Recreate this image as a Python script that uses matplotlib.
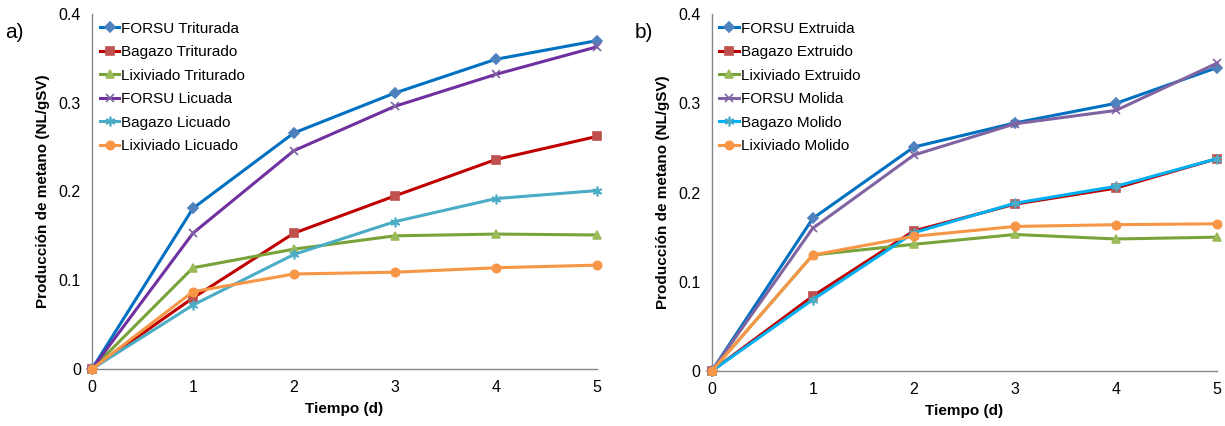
import matplotlib.pyplot as plt
from matplotlib.ticker import FuncFormatter

plt.rcParams['font.family'] = ['Liberation Sans', 'DejaVu Sans']

dias = [0, 1, 2, 3, 4, 5]

# panel a
forsu_triturada = [0, 0.181, 0.266, 0.311, 0.349, 0.370]
bagazo_triturado = [0, 0.080, 0.153, 0.195, 0.236, 0.262]
lixiviado_triturado = [0, 0.114, 0.135, 0.150, 0.152, 0.151]
forsu_licuada = [0, 0.153, 0.246, 0.296, 0.332, 0.363]
bagazo_licuado = [0, 0.072, 0.129, 0.166, 0.192, 0.201]
lixiviado_licuado = [0, 0.087, 0.107, 0.109, 0.114, 0.117]

# panel b
forsu_extruida = [0, 0.171, 0.251, 0.278, 0.300, 0.340]
bagazo_extruido = [0, 0.084, 0.157, 0.187, 0.205, 0.238]
lixiviado_extruido = [0, 0.130, 0.142, 0.153, 0.148, 0.150]
forsu_molida = [0, 0.160, 0.242, 0.277, 0.292, 0.345]
bagazo_molido = [0, 0.080, 0.155, 0.188, 0.207, 0.238]
lixiviado_molido = [0, 0.130, 0.151, 0.162, 0.164, 0.165]

ASTER = (6, 2, 0)

series_a = [
    ('FORSU Triturada', forsu_triturada, '#0070C0', '#4F81BD', 'D', 5),
    ('Bagazo Triturado', bagazo_triturado, '#C00000', '#C0504D', 's', 6),
    ('Lixiviado Triturado', lixiviado_triturado, '#77A33A', '#9BBB59', '^', 6),
    ('FORSU Licuada', forsu_licuada, '#7030A0', '#8064A2', 'x', 6),
    ('Bagazo Licuado', bagazo_licuado, '#4BACC6', '#4BACC6', ASTER, 7),
    ('Lixiviado Licuado', lixiviado_licuado, '#F79646', '#F79646', 'o', 6),
]
series_b = [
    ('FORSU Extruida', forsu_extruida, '#0070C0', '#4F81BD', 'D', 5),
    ('Bagazo Extruido', bagazo_extruido, '#C00000', '#C0504D', 's', 6),
    ('Lixiviado Extruido', lixiviado_extruido, '#77A33A', '#9BBB59', '^', 6),
    ('FORSU Molida', forsu_molida, '#8064A2', '#8064A2', 'x', 6),
    ('Bagazo Molido', bagazo_molido, '#00B0F0', '#4BACC6', ASTER, 7),
    ('Lixiviado Molido', lixiviado_molido, '#F79646', '#F79646', 'o', 6),
]

fig = plt.figure(figsize=(12.25, 4.26), dpi=100)
ax_a = fig.add_axes([0.0751, 0.134, 0.412, 0.833])
ax_b = fig.add_axes([0.581, 0.129, 0.4125, 0.838])


def draw(ax, series, letra, lx):
    for name, vals, lc, mc, mk, ms in series:
        ax.plot(dias, vals, color=lc, lw=2.2, marker=mk, markersize=ms,
                markerfacecolor=mc, markeredgecolor=mc, markeredgewidth=1.2,
                label=name, clip_on=False, zorder=3)
    ax.set_xlim(0, 5)
    ax.set_ylim(0, 0.4)
    ax.set_xticks(dias)
    ax.set_yticks([0, 0.1, 0.2, 0.3, 0.4])
    ax.yaxis.set_major_formatter(FuncFormatter(lambda v, p: '0' if v == 0 else f'{v:.1f}'))
    for s in ['top', 'right']:
        ax.spines[s].set_visible(False)
    for s in ['left', 'bottom']:
        ax.spines[s].set_color('#868686')
        ax.spines[s].set_linewidth(1)
    ax.tick_params(length=0, labelsize=11.5, pad=8)
    ax.set_xlabel('Tiempo (d)', fontsize=11, fontweight='bold', labelpad=5)
    ax.set_ylabel('Producción de metano (NL/gSV)', fontsize=11, fontweight='bold', labelpad=6)
    ax.legend(loc='upper left', frameon=False, fontsize=11, handlelength=1.3,
              handletextpad=0.1, labelspacing=0.62, borderaxespad=0.1,
              bbox_to_anchor=(0.0, 1.0))
    fig.text(lx, 0.91, letra, fontsize=15)


draw(ax_a, series_a, 'a)', 0.004)
draw(ax_b, series_b, 'b)', 0.518)

fig.savefig('out.png', dpi=100)
